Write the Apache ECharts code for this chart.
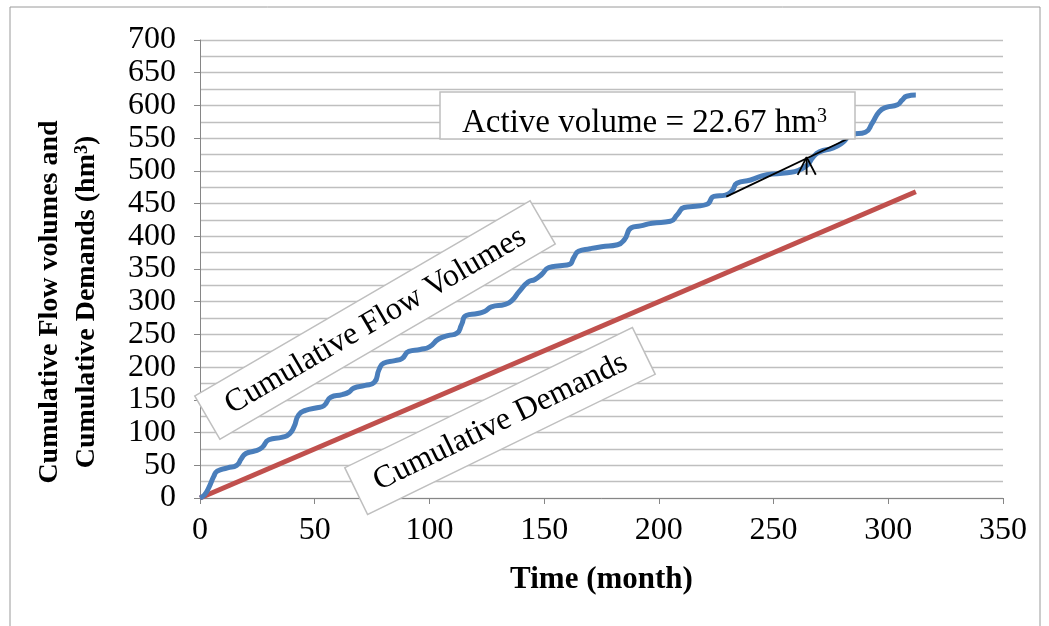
<!DOCTYPE html>
<html>
<head>
<meta charset="utf-8">
<script src="https://cdn.jsdelivr.net/npm/echarts@6/dist/echarts.min.js"></script>
<style>html,body{margin:0;padding:0;background:#fff;}#c{width:1049px;height:626px;}</style>
</head>
<body>
<div id="c"></div>
<script>
// ---- data ----
var flowMonths = [0,2,4,6,7.5,12,16,18,20,24,27,30,36,39,41,43,46,51,54,57,62,65,67,72,76,78,80,85,88,91,96,100,104,108,112,114,116,121,124,127,133,136,139,143,146,149,152,157,161,163,165,170,175,182,185,188,192,197,205,208,211,216,221,224,229,232,234,240,247,256,261,265,267,270,276,280,284,290,293,296,299,304,306,308,312];
var flowValues = [0,5,17,33,41,46,50,60,68,72,77,89,93,98,109,127,134,138,141,154,158,162,168,172,177,196,206,210,213,224,227,231,243,248,252,265,279,282,285,292,296,302,315,330,334,342,352,355,357,368,377,381,384,387,395,413,416,420,423,433,444,446,449,461,463,470,481,486,494,497,501,510,520,529,535,543,555,559,573,590,597,601,608,614,616];
var demandMonths = [0, 312];
var demandValues = [0, 468];
var activeLineMonths = [229.4, 282.4];
var activeLineValues = [460.7, 549];
var arrowHeadMonths = [260.5, 264.4, 268.4];
var arrowHeadValues = [494, 521, 494];
var arrowStemMonths = [264.4, 264.4];
var arrowStemValues = [494, 521];
var xTicks = [0, 50, 100, 150, 200, 250, 300, 350];
var yTicks = [0, 50, 100, 150, 200, 250, 300, 350, 400, 450, 500, 550, 600, 650, 700];
var annotationText = 'Active volume = 22.67 hm';
var flowLabel = 'Cumulative Flow Volumes';
var demandLabel = 'Cumulative Demands';
var yTitleLine1 = 'Cumulative Flow volumes and';
var yTitleLine2 = 'Cumulative Demands (hm';

function pairs(xs, ys){ return xs.map(function(x,i){ return [x, ys[i]]; }); }

var FONT = '"Liberation Serif", "Times New Roman", serif';
var chart = echarts.init(document.getElementById('c'), null, {renderer:'canvas'});
chart.setOption({
  animation: false,
  backgroundColor: '#fff',
  grid: {left: 200, right: 46, top: 40, bottom: 128, containLabel: false},
  xAxis: {
    type: 'value', min: xTicks[0], max: xTicks[xTicks.length-1], interval: 50,
    axisLine: {show: true, lineStyle: {color: '#868686', width: 1}},
    axisTick: {show: true, length: 6, lineStyle: {color: '#868686'}},
    axisLabel: {fontFamily: FONT, fontSize: 32, color: '#000', margin: 17},
    splitLine: {show: false},
    name: 'Time (month)', nameLocation: 'middle', nameGap: 66,
    nameTextStyle: {fontFamily: FONT, fontSize: 31, fontWeight: 'bold', color: '#000'}
  },
  yAxis: {
    type: 'value', min: yTicks[0], max: yTicks[yTicks.length-1], interval: 50,
    axisLine: {show: true, lineStyle: {color: '#868686', width: 1}},
    axisTick: {show: true, length: 6, lineStyle: {color: '#868686'}},
    axisLabel: {fontFamily: FONT, fontSize: 32, color: '#000', margin: 24},
    splitLine: {show: true, lineStyle: {color: '#bfbfbf', width: 1.3}},
    minorTick: {show: false, splitNumber: 2},
    minorSplitLine: {show: true, lineStyle: {color: '#bfbfbf', width: 1.3}}
  },
  series: [
    {type: 'line', name: 'Cumulative Demands', data: pairs(demandMonths, demandValues), showSymbol: false,
      lineStyle: {color: '#c0504d', width: 5}, z: 3},
    {type: 'line', name: 'Cumulative Flow Volumes', data: pairs(flowMonths, flowValues), showSymbol: false,
      smooth: 0.55, lineStyle: {color: '#4a7ebb', width: 5}, z: 4},
    {type: 'line', data: pairs(activeLineMonths, activeLineValues), showSymbol: false,
      lineStyle: {color: '#000', width: 1.8}, z: 5},
    {type: 'line', data: pairs(arrowHeadMonths, arrowHeadValues), showSymbol: false,
      lineStyle: {color: '#000', width: 1.8}, z: 5},
    {type: 'line', data: pairs(arrowStemMonths, arrowStemValues), showSymbol: false,
      lineStyle: {color: '#000', width: 1.8}, z: 5}
  ],
  graphic: [
    {type: 'rect', z: 0, silent: true, shape: {x: 10, y: 7, width: 1030, height: 660},
      style: {fill: 'none', stroke: '#9a9a9a', lineWidth: 1}},
    {type: 'group', x: 375, y: 320, rotation: 30.2 * Math.PI / 180, z: 100, children: [
      {type: 'rect', z: 100, shape: {x: -194, y: -25, width: 388, height: 50},
        style: {fill: '#ffffff', stroke: '#bfbfbf', lineWidth: 1.5}},
      {type: 'text', z: 101, style: {text: flowLabel, x: 0, y: 1, align: 'center', verticalAlign: 'middle',
        font: '32px ' + FONT, fill: '#000'}}
    ]},
    {type: 'group', x: 500, y: 421, rotation: 26 * Math.PI / 180, z: 100, children: [
      {type: 'rect', z: 100, shape: {x: -160, y: -26, width: 320, height: 52},
        style: {fill: '#ffffff', stroke: '#bfbfbf', lineWidth: 1.5}},
      {type: 'text', z: 101, style: {text: demandLabel, x: 0, y: 1, align: 'center', verticalAlign: 'middle',
        font: '32px ' + FONT, fill: '#000'}}
    ]},
    {type: 'rect', z: 100, shape: {x: 440, y: 92, width: 415, height: 47},
      style: {fill: '#ffffff', stroke: '#bfbfbf', lineWidth: 1.5}},
    {type: 'text', z: 101, x: 462, y: 123, style: {
      text: annotationText + '{sup|3}', verticalAlign: 'middle', align: 'left',
      font: '33px ' + FONT, fill: '#000',
      rich: {sup: {fontSize: 20, fontFamily: FONT, fill: '#000', verticalAlign: 'top'}}}},
    {type: 'text', z: 101, x: 50, y: 302, rotation: Math.PI / 2, style: {
      text: yTitleLine1, align: 'center', verticalAlign: 'middle',
      font: 'bold 28px ' + FONT, fill: '#000'}},
    {type: 'text', z: 101, x: 87, y: 302, rotation: Math.PI / 2, style: {
      text: yTitleLine2 + '{sup|3}' + ')', align: 'center', verticalAlign: 'middle',
      font: 'bold 28px ' + FONT, fill: '#000',
      rich: {sup: {fontSize: 18, fontWeight: 'bold', fontFamily: FONT, fill: '#000', verticalAlign: 'top'}}}}
  ]
});
</script>
</body>
</html>
